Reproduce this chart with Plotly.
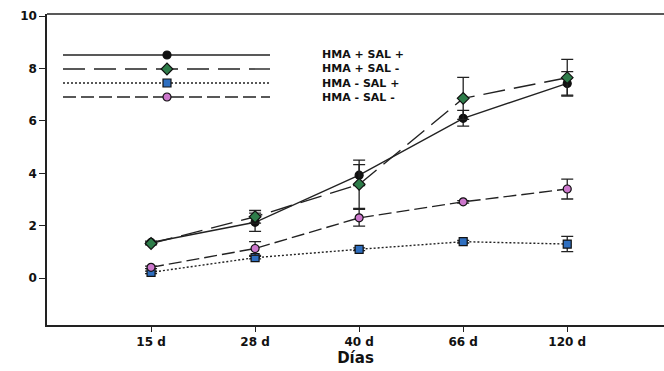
import plotly.graph_objects as go

days = ["15 d", "28 d", "40 d", "66 d", "120 d"]
series_names = ["HMA + SAL +", "HMA + SAL -", "HMA - SAL +", "HMA - SAL -"]

hma_p_sal_p = [1.36, 2.13, 3.93, 6.10, 7.43]
hma_p_sal_p_err = [0.05, 0.35, 0.40, 0.30, 0.45]
hma_p_sal_m = [1.32, 2.34, 3.58, 6.86, 7.65]
hma_p_sal_m_err = [0.05, 0.24, 0.92, 0.80, 0.70]
hma_m_sal_p = [0.22, 0.78, 1.10, 1.39, 1.30]
hma_m_sal_p_err = [0.05, 0.05, 0.05, 0.05, 0.29]
hma_m_sal_m = [0.41, 1.13, 2.30, 2.91, 3.40]
hma_m_sal_m_err = [0.05, 0.26, 0.32, 0.05, 0.38]

values = [hma_p_sal_p, hma_p_sal_m, hma_m_sal_p, hma_m_sal_m]
errors = [hma_p_sal_p_err, hma_p_sal_m_err, hma_m_sal_p_err, hma_m_sal_m_err]

styles = [
    dict(dash="solid", symbol="circle", color="#111111", size=8),
    dict(dash="22px,9px", symbol="diamond", color="#2e7d4a", size=9),
    dict(dash="2px,2px", symbol="square", color="#2f6fc0", size=8),
    dict(dash="13px,5px", symbol="circle", color="#cc77cc", size=8),
]

FONT = "DejaVu Sans"
x_pos = list(range(len(days)))
fig = go.Figure()

for name, vals, errs, st in zip(series_names, values, errors, styles):
    fig.add_trace(go.Scatter(
        x=x_pos, y=vals, mode="lines+markers", name=name, showlegend=False,
        line=dict(color="#222222", width=1.4, dash=st["dash"]),
        marker=dict(symbol=st["symbol"], color=st["color"], size=st["size"],
                    line=dict(color="#111111", width=1.2)),
        error_y=dict(type="data", array=errs, visible=True, color="#222222",
                     thickness=1.3, width=6),
    ))

# Legend drawn on an overlaid pixel-space axis pair
legend_rows = [55, 69, 83, 97]
for name, st, yy in zip(series_names, styles, legend_rows):
    fig.add_trace(go.Scatter(
        x=[63, 270], y=[yy, yy], mode="lines", xaxis="x2", yaxis="y2",
        showlegend=False, hoverinfo="skip",
        line=dict(color="#222222", width=1.4, dash=st["dash"]),
    ))
    fig.add_trace(go.Scatter(
        x=[167], y=[yy], mode="markers", xaxis="x2", yaxis="y2",
        showlegend=False, hoverinfo="skip",
        marker=dict(symbol=st["symbol"], color=st["color"], size=st["size"],
                    line=dict(color="#111111", width=1.2)),
    ))

fig.add_annotation(x=321, y=sum(legend_rows) / len(legend_rows),
                   xref="x2", yref="y2", text="<br>".join(series_names),
                   showarrow=False, xanchor="left", yanchor="middle",
                   align="left", borderpad=0,
                   font=dict(family=FONT, size=11,
                             color="#111111", weight="bold"))

font_bold = dict(family=FONT, size=12, color="#111111", weight="bold")

fig.update_layout(
    width=664, height=371,
    margin=dict(l=47, r=0, t=14, b=46),
    paper_bgcolor="white", plot_bgcolor="white",
    xaxis=dict(range=[-1.0, 4.93], tickvals=x_pos, ticktext=days,
               showgrid=False, zeroline=False, showline=True,
               linecolor="#222222", linewidth=1.5, ticks="outside",
               ticklen=5, tickwidth=1.3, tickcolor="#222222",
               tickfont=font_bold,
               title=dict(text="Días", standoff=4,
                          font=dict(family=FONT, size=15,
                                    color="#111111", weight="bold"))),
    yaxis=dict(range=[-1.79, 10.08], tickvals=[0, 2, 4, 6, 8, 10],
               showgrid=False, zeroline=False, showline=True,
               linecolor="#222222", linewidth=1.5, ticks="outside",
               ticklen=6, tickwidth=1.3, tickcolor="#222222",
               tickfont=font_bold),
    xaxis2=dict(overlaying="x", range=[47, 664], visible=False),
    yaxis2=dict(overlaying="y", range=[325, 14], visible=False),
    shapes=[dict(type="line", xref="paper", yref="paper", x0=0, x1=1,
                 y0=1, y1=1, line=dict(color="#222222", width=1.5))],
)

fig.write_html(
    "out.html",
    config={"displayModeBar": False},
    post_script="document.body.style.margin='0';document.body.style.overflow='hidden';",
)
